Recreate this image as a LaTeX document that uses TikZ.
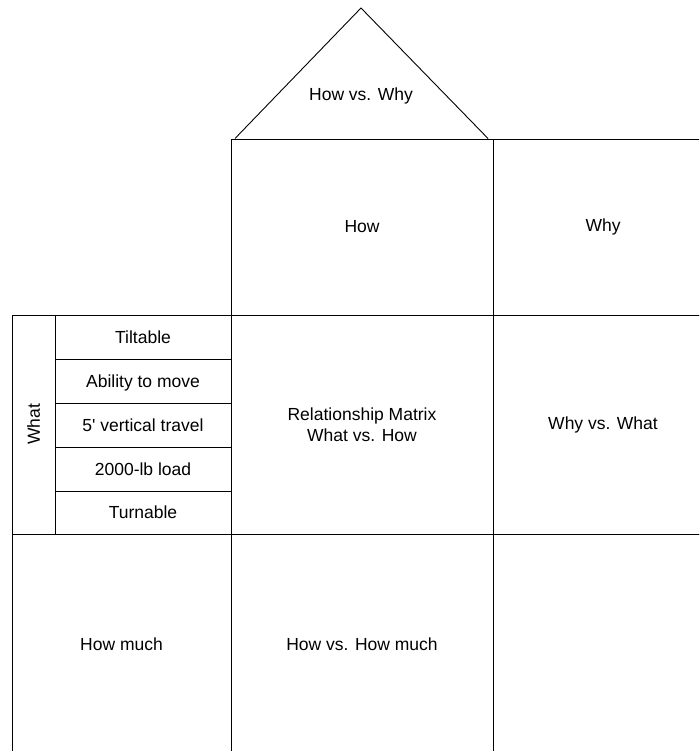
\documentclass[tikz,border=0pt]{standalone}
\usepackage{fontspec}
\setmainfont{Liberation Sans}
\begin{document}
\begin{tikzpicture}[x=1pt,y=-1pt,
  cell/.style={draw=black, line width=0.9pt, anchor=north west, inner sep=0pt,
    outer sep=0pt, align=center, font=\fontsize{17.5}{20.5}\selectfont},
  row/.style={cell, minimum width=176, text height=12.5, text depth=0},
  label/.style={inner sep=0pt, align=center, font=\fontsize{17.5}{20.5}\selectfont},
  roofline/.style={draw=black, line width=0.9pt}]
  \useasboundingbox (0,0) rectangle (699,751);
  \clip (0,0) rectangle (699,751);

  % roof
  \coordinate (apex) at (361,8);
  \coordinate (roofL) at (235,138.5);
  \coordinate (roofR) at (488,138.5);
  \draw[roofline] (roofL) -- (apex) -- (roofR);
  \node[label] (howwhy) at (361,96) {How vs. Why};

  % upper storey
  \node[cell, minimum width=262, minimum height=176] (how) at (231,139) {How};
  \node[cell, minimum width=220, minimum height=176] (why) at (493,139) {Why};

  % middle storey: the "What" list
  \node[cell, anchor=center, rotate=90, minimum width=219, minimum height=43]
    (what) at (33.5,424.5) {What};
  \node[row, minimum height=44] (w1) at (55,315) {Tiltable};
  \node[row, minimum height=44] (w2) at (55,359) {Ability to move};
  \node[row, minimum height=44] (w3) at (55,403) {5\textquotesingle{} vertical travel};
  \node[row, minimum height=44] (w4) at (55,447) {2000-lb load};
  \node[row, minimum height=43] (w5) at (55,491) {Turnable};

  \node[cell, minimum width=262, minimum height=219] (matrix) at (231,315)
    {Relationship Matrix\\What vs. How};
  \node[cell, minimum width=220, minimum height=219] (whywhat) at (493,315) {Why vs. What};

  % basement
  \node[cell, minimum width=219, minimum height=220] (howmuch) at (12,534) {How much};
  \node[cell, minimum width=262, minimum height=220] (howhowmuch) at (231,534) {How vs. How much};
  \node[cell, minimum width=220, minimum height=220] (corner) at (493,534) {};
\end{tikzpicture}
\end{document}
